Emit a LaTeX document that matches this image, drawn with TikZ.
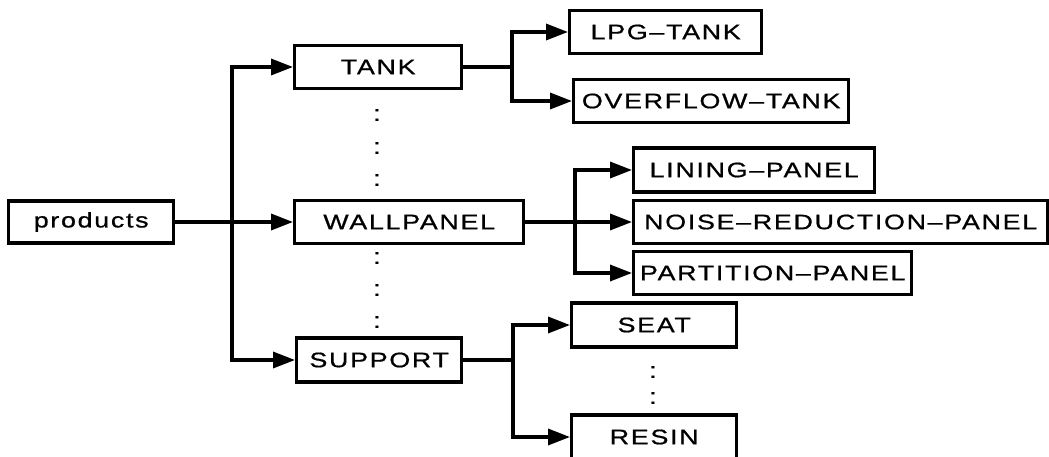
\documentclass[tikz,border=0pt]{standalone}
\usepackage{fontspec}
\setmainfont{Liberation Sans}[FakeStretch=1.28,LetterSpace=8,FakeBold=0.8]
\usetikzlibrary{arrows.meta}
\begin{document}
\begin{tikzpicture}[x=1pt,y=-1pt,line width=3.4pt,
  box/.style={draw,anchor=west,minimum height=43pt,inner sep=0pt,
    font=\fontsize{21}{25}\selectfont},
  dots/.style={inner sep=0pt,font=\fontsize{22}{26}\selectfont},
  arr/.style={-{Triangle[length=22pt,width=16pt]}}]
\useasboundingbox (0,0) rectangle (1049,457);
\clip (0,0) rectangle (1049,457);
\node[box,minimum width=165pt,minimum height=42pt] (prod) at (7,222) {products};
\node[box,minimum width=167pt] (tank) at (293,67) {TANK};
\node[box,minimum width=229pt] (wall) at (293,222) {WALLPANEL};
\node[box,minimum width=165pt,minimum height=44pt] (supp) at (295,360) {SUPPORT};
\node[box,minimum width=192pt] (lpg) at (568,32) {LPG--TANK};
\node[box,minimum width=275pt] (over) at (572,101) {OVERFLOW--TANK};
\node[box,minimum width=241pt,minimum height=44pt] (lining) at (632,170) {LINING--PANEL};
\node[box,minimum width=414pt] (noise) at (632,222) {NOISE--REDUCTION--PANEL};
\node[box,minimum width=278pt] (part) at (632,273) {PARTITION--PANEL};
\node[box,minimum width=165pt,minimum height=44pt] (seat) at (570,325) {SEAT};
\node[box,minimum width=165pt,minimum height=44pt] (resin) at (570,437) {RESIN};
\coordinate (j1) at (232,222);
\coordinate (j2) at (512,67);
\coordinate (j3) at (575,222);
\coordinate (j4) at (513,360);
\draw[arr] (prod.east) -- (j1) |- (tank.west);
\draw[arr] (j1) -- (wall.west);
\draw[arr] (j1) |- (supp.west);
\draw[arr] (tank.east) -- (j2) |- (lpg.west);
\draw[arr] (j2) |- (over.west);
\draw[arr] (wall.east) -- (noise.west);
\draw[arr] (j3) |- (lining.west);
\draw[arr] (j3) |- (part.west);
\draw[arr] (supp.east) -- (j4) |- (seat.west);
\draw[arr] (j4) |- (resin.west);
\foreach \y/\n in {115/a,148/b,180/c,258/d,290/e,322/f}
  \node[dots] (col\n) at (377,\y) {:};
\node[dots] (colg) at (653,372) {:};
\node[dots] (colh) at (653,398) {:};
\end{tikzpicture}
\end{document}
